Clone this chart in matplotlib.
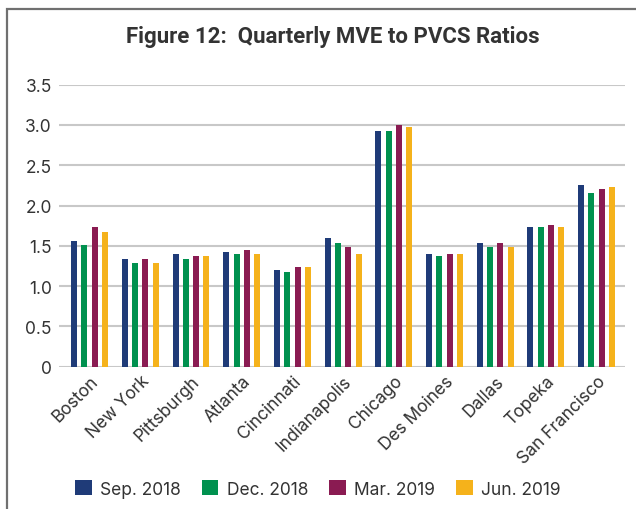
import matplotlib
matplotlib.use("Agg")
import matplotlib.pyplot as plt
from matplotlib.patches import Rectangle, Patch
import numpy as np

categories = ["Boston", "New York", "Pittsburgh", "Atlanta", "Cincinnati", "Indianapolis",
              "Chicago", "Des Moines", "Dallas", "Topeka", "San Francisco"]
series_names = ["Sep. 2018", "Dec. 2018", "Mar. 2019", "Jun. 2019"]
sep_2018 = [1.56, 1.34, 1.40, 1.42, 1.20, 1.60, 2.93, 1.40, 1.54, 1.73, 2.26]
dec_2018 = [1.51, 1.29, 1.34, 1.40, 1.17, 1.54, 2.93, 1.37, 1.49, 1.73, 2.15]
mar_2019 = [1.73, 1.34, 1.37, 1.45, 1.24, 1.49, 3.00, 1.40, 1.54, 1.76, 2.21]
jun_2019 = [1.67, 1.29, 1.37, 1.40, 1.24, 1.40, 2.98, 1.40, 1.49, 1.73, 2.23]
series = [sep_2018, dec_2018, mar_2019, jun_2019]
colors = ["#1f3b78", "#00914f", "#8a1b52", "#f5b21b"]
yticks = [0, 0.5, 1.0, 1.5, 2.0, 2.5, 3.0, 3.5]
ytick_labels = ["0", "0.5", "1.0", "1.5", "2.0", "2.5", "3.0", "3.5"]

plt.rcParams['font.family'] = ['Inter', 'DejaVu Sans']

W, H = 636, 510
fig = plt.figure(figsize=(W / 100, H / 100), dpi=100)

# outer frame
fig.patches.append(Rectangle((7 / W, -0.2), 1.2, 1.2 - 10 / H,
                             transform=fig.transFigure, fill=False,
                             edgecolor="#707070", linewidth=1.6))

left, right = 58.7, 625
bottom, top = 367.7, 85.7
ax = fig.add_axes([left / W, 1 - bottom / H, (right - left) / W, (bottom - top) / H])

x = np.arange(len(categories))
pitch = 0.203
width = 0.118
for k, (vals, c) in enumerate(zip(series, colors)):
    ax.bar(x + (k - 1.5) * pitch, vals, width=width, color=c, zorder=3)

ax.set_ylim(0, 3.5)
ax.set_xlim(-0.61, 10.56)
ax.set_yticks(yticks)
ax.set_yticklabels(ytick_labels)
ax.yaxis.grid(True, color="#c8c8c8", linewidth=1.5, zorder=0)
ax.set_axisbelow(True)
for s in ax.spines.values():
    s.set_visible(False)
ax.tick_params(axis='y', length=0, labelsize=12.5, labelcolor="#333333", pad=5)
ax.tick_params(axis='x', length=0, labelsize=12.5, labelcolor="#333333", pad=4)
ax.set_xticks(x)
ax.set_xticklabels(categories, rotation=45, ha='right', rotation_mode='anchor')

fig.text(333 / W, 1 - 37 / H, "Figure 12:  Quarterly MVE to PVCS Ratios",
         ha='center', va='center', fontsize=16, fontweight='bold',
         color="#333333", family=['Roboto', 'DejaVu Sans'])

handles = [Patch(facecolor=c, edgecolor='none') for c in colors]
fig.legend(handles, series_names, loc='center', bbox_to_anchor=(318 / W, 1 - 490 / H),
           ncol=4, frameon=False, fontsize=12.5, handlelength=0.95, handleheight=0.95,
           handletextpad=0.5, columnspacing=1.2, labelcolor="#333333")

fig.savefig("out.png", dpi=100)
